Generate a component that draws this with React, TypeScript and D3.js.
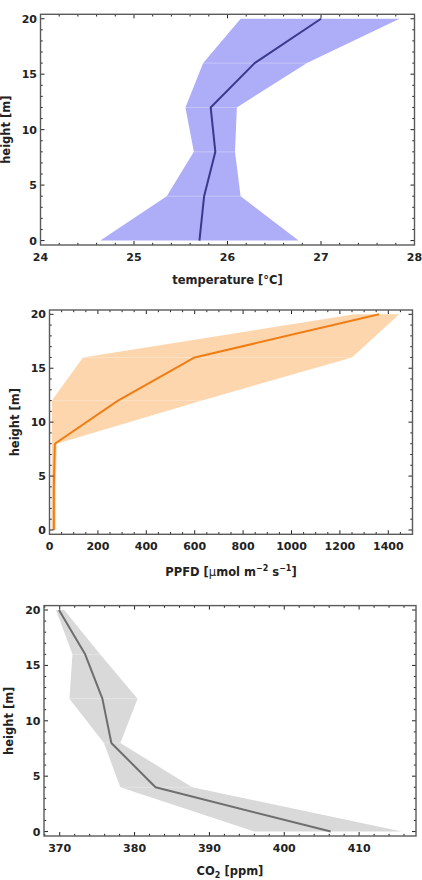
import React from "react";
import * as d3 from "d3";

const heights = [0, 4, 8, 12, 16, 20];

const tempMean = [25.7, 25.75, 25.87, 25.82, 26.29, 27.0];
const tempLow = [24.64, 25.35, 25.64, 25.55, 25.74, 26.14];
const tempHigh = [26.76, 26.14, 26.08, 26.1, 26.85, 27.84];
const tempTicks = [24, 25, 26, 27, 28];

const ppfdMean = [18, 18, 22, 283, 600, 1362];
const ppfdLow = [8, 8, 10, 10, 138, 1260];
const ppfdHigh = [26, 26, 30, 630, 1250, 1445];
const ppfdTicks = [0, 200, 400, 600, 800, 1000, 1200, 1400];

const co2Mean = [406.2, 382.8, 376.9, 375.7, 373.4, 369.9];
const co2Low = [396.0, 378.1, 375.9, 371.3, 371.7, 369.5];
const co2High = [415.7, 387.7, 378.1, 380.4, 375.4, 370.6];
const co2Ticks = [370, 380, 390, 400, 410];

const heightTicks = [0, 5, 10, 15, 20];

const FONT = "'DejaVu Sans', sans-serif";

type PanelProps = {
  mean: number[];
  low: number[];
  high: number[];
  xDomain: [number, number];
  xTicks: number[];
  xMinorStep: number;
  box: { left: number; right: number; top: number; bottom: number };
  bandColor: string;
  lineColor: string;
  xTitle: React.ReactNode;
  xTitleDy: number;
  yTitleX: number;
};

function Panel(p: PanelProps) {
  const { box } = p;
  const x = d3.scaleLinear().domain(p.xDomain).range([box.left, box.right]);
  const y = d3.scaleLinear().domain([-0.4, 20.4]).range([box.bottom, box.top]);

  const pts = heights.map((h, i) => ({ h, m: p.mean[i], lo: p.low[i], hi: p.high[i] }));
  const area = d3
    .area<any>()
    .y((d) => y(d.h))
    .x0((d) => x(d.lo))
    .x1((d) => x(d.hi));
  const line = d3
    .line<any>()
    .x((d) => x(d.m))
    .y((d) => y(d.h));

  const [d0, d1] = p.xDomain;
  const minorX: number[] = [];
  const start = Math.ceil(d0 / p.xMinorStep) * p.xMinorStep;
  for (let v = start; v <= d1 + 1e-9; v += p.xMinorStep) {
    const r = Math.round(v / p.xMinorStep) * p.xMinorStep;
    if (!p.xTicks.some((t) => Math.abs(t - r) < 1e-6)) minorX.push(r);
  }
  const minorY: number[] = [];
  for (let v = 0; v <= 20; v++) if (v % 5 !== 0) minorY.push(v);

  const MAJ = 4;
  const MIN = 2.2;
  const tickStroke = "#222";
  const midY = (box.top + box.bottom) / 2;
  const midX = (box.left + box.right) / 2;

  return (
    <g>
      <path d={area(pts) || ""} fill={p.bandColor} />
      {pts.slice(1, -1).map((d, i) => (
        <line
          key={"lv" + i}
          x1={x(d.lo)}
          x2={x(d.hi)}
          y1={y(d.h)}
          y2={y(d.h)}
          stroke="#ffffff"
          strokeOpacity={0.3}
          strokeWidth={1}
        />
      ))}
      <path d={line(pts) || ""} fill="none" stroke={p.lineColor} strokeWidth={2} strokeLinejoin="round" />

      {/* ticks x */}
      {p.xTicks.map((t) => (
        <g key={"xt" + t}>
          <line x1={x(t)} x2={x(t)} y1={box.bottom} y2={box.bottom - MAJ} stroke={tickStroke} strokeWidth={1} />
          <line x1={x(t)} x2={x(t)} y1={box.top} y2={box.top + MAJ} stroke={tickStroke} strokeWidth={1} />
          <text
            x={x(t)}
            y={box.bottom + 15.5}
            textAnchor="middle"
            fontFamily={FONT}
            fontWeight="bold"
            fontSize={11}
            fill="#222"
          >
            {t}
          </text>
        </g>
      ))}
      {minorX.map((t) => (
        <g key={"xm" + t}>
          <line x1={x(t)} x2={x(t)} y1={box.bottom} y2={box.bottom - MIN} stroke={tickStroke} strokeWidth={1} />
          <line x1={x(t)} x2={x(t)} y1={box.top} y2={box.top + MIN} stroke={tickStroke} strokeWidth={1} />
        </g>
      ))}
      {heightTicks.map((t) => (
        <g key={"yt" + t}>
          <line x1={box.left} x2={box.left + MAJ} y1={y(t)} y2={y(t)} stroke={tickStroke} strokeWidth={1} />
          <line x1={box.right} x2={box.right - MAJ} y1={y(t)} y2={y(t)} stroke={tickStroke} strokeWidth={1} />
          <text
            x={box.left - 3.5}
            y={y(t) + 4}
            textAnchor="end"
            fontFamily={FONT}
            fontWeight="bold"
            fontSize={11}
            fill="#222"
          >
            {t}
          </text>
        </g>
      ))}
      {minorY.map((t) => (
        <g key={"ym" + t}>
          <line x1={box.left} x2={box.left + MIN} y1={y(t)} y2={y(t)} stroke={tickStroke} strokeWidth={1} />
          <line x1={box.right} x2={box.right - MIN} y1={y(t)} y2={y(t)} stroke={tickStroke} strokeWidth={1} />
        </g>
      ))}
      <rect
        x={box.left}
        y={box.top}
        width={box.right - box.left}
        height={box.bottom - box.top}
        fill="none"
        stroke="#5a5a5a"
        strokeWidth={1.4}
      />
      <text
        x={midX}
        y={box.bottom + p.xTitleDy}
        textAnchor="middle"
        fontFamily={FONT}
        fontWeight="bold"
        fontSize={11.5}
        fill="#222"
      >
        {p.xTitle}
      </text>
      <text
        transform={`translate(${p.yTitleX},${midY}) rotate(-90)`}
        textAnchor="middle"
        fontFamily={FONT}
        fontWeight="bold"
        fontSize={11.5}
        fill="#222"
      >
        height [m]
      </text>
    </g>
  );
}

export default function App() {
  return (
    <svg
      width={422}
      height={880}
      style={{ position: "absolute", left: 0, top: 0, background: "#fff" }}
    >
      <rect x={0} y={0} width={422} height={880} fill="#fff" />
      <Panel
        mean={tempMean}
        low={tempLow}
        high={tempHigh}
        xDomain={[24, 28]}
        xTicks={tempTicks}
        xMinorStep={0.2}
        box={{ left: 40.5, right: 414.5, top: 14.3, bottom: 245 }}
        bandColor="#adadf8"
        lineColor="#3a3a8c"
        xTitle={"temperature [°C]"}
        xTitleDy={39}
        yTitleX={10}
      />
      <Panel
        mean={ppfdMean}
        low={ppfdLow}
        high={ppfdHigh}
        xDomain={[0, 1500]}
        xTicks={ppfdTicks}
        xMinorStep={50}
        box={{ left: 49.5, right: 412.5, top: 310, bottom: 534.3 }}
        bandColor="#fdd6ae"
        lineColor="#f07d14"
        xTitle={
          <>
            PPFD [<tspan fontWeight="normal">μ</tspan>mol m
            <tspan dy={-5} fontSize={8}>−2</tspan>
            <tspan dy={5}> s</tspan>
            <tspan dy={-5} fontSize={8}>−1</tspan>
            <tspan dy={5}>]</tspan>
          </>
        }
        xTitleDy={42}
        yTitleX={19}
      />
      <Panel
        mean={co2Mean}
        low={co2Low}
        high={co2High}
        xDomain={[367.9, 417.6]}
        xTicks={co2Ticks}
        xMinorStep={2}
        box={{ left: 44, right: 416, top: 605.6, bottom: 836 }}
        bandColor="#d9d9d9"
        lineColor="#6e6e6e"
        xTitle={
          <>
            CO
            <tspan dy={3} fontSize={8}>2</tspan>
            <tspan dy={-3}> [ppm]</tspan>
          </>
        }
        xTitleDy={39}
        yTitleX={13}
      />
    </svg>
  );
}
